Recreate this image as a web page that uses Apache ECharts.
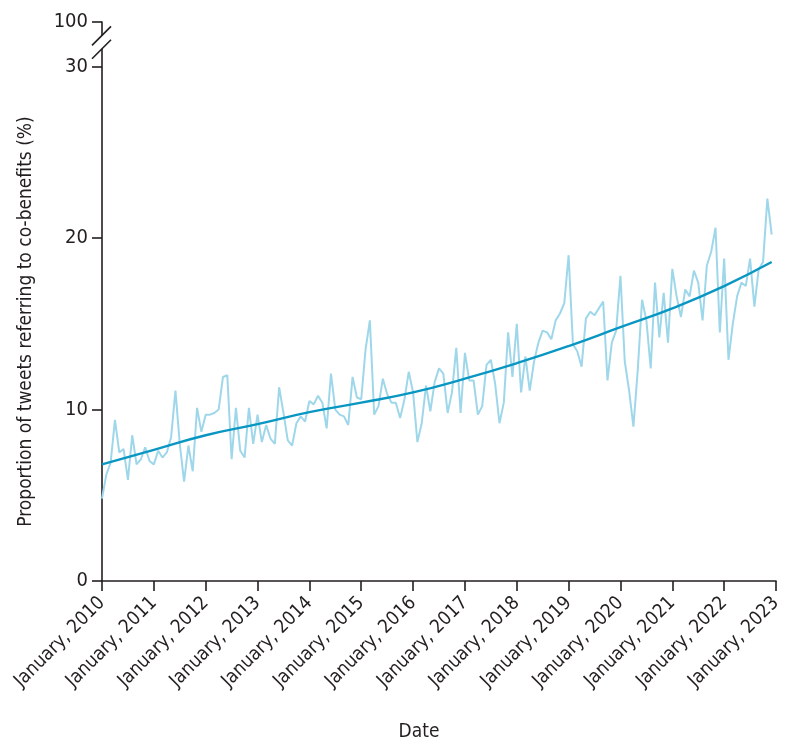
<!DOCTYPE html>
<html>
<head>
<meta charset="utf-8">
<script src="https://cdn.jsdelivr.net/npm/echarts@6.0.0/dist/echarts.min.js"></script>
<style>
  html, body { margin: 0; padding: 0; background: #fff; }
  #chart { width: 800px; height: 753px; }
</style>
</head>
<body>
<div id="chart"></div>
<script>
  // monthly share of tweets mentioning co-benefits, Jan 2010 .. Dec 2022 (one row per year)
  const monthlyShare = [
    4.8, 6.2, 6.9, 9.4, 7.5, 7.7, 5.9, 8.5, 6.8, 7.1, 7.8, 7.0,
    6.8, 7.6, 7.2, 7.5, 8.4, 11.1, 8.0, 5.8, 7.9, 6.4, 10.1, 8.7,
    9.7, 9.7, 9.8, 10.0, 11.9, 12.0, 7.1, 10.1, 7.6, 7.2, 10.1, 8.0,
    9.7, 8.1, 9.1, 8.3, 8.0, 11.3, 9.8, 8.2, 7.9, 9.2, 9.6, 9.3,
    10.5, 10.3, 10.8, 10.4, 8.9, 12.1, 10.0, 9.7, 9.6, 9.1, 11.9, 10.7,
    10.6, 13.5, 15.2, 9.7, 10.2, 11.8, 10.9, 10.4, 10.4, 9.5, 10.6, 12.2,
    11.0, 8.1, 9.2, 11.4, 9.9, 11.6, 12.4, 12.1, 9.8, 11.0, 13.6, 9.8,
    13.3, 11.7, 11.7, 9.7, 10.2, 12.6, 12.9, 11.5, 9.2, 10.4, 14.5, 11.9,
    15.0, 11.0, 13.1, 11.1, 12.8, 13.9, 14.6, 14.5, 14.1, 15.2, 15.6, 16.2,
    19.0, 13.8, 13.4, 12.5, 15.3, 15.7, 15.5, 15.9, 16.3, 11.7, 13.9, 14.6,
    17.8, 12.8, 11.1, 9.0, 12.3, 16.4, 15.2, 12.4, 17.4, 14.2, 16.8, 13.9,
    18.2, 16.6, 15.4, 17.0, 16.6, 18.1, 17.4, 15.2, 18.4, 19.2, 20.6, 14.5,
    18.8, 12.9, 15.0, 16.6, 17.4, 17.2, 18.8, 16.0, 18.2, 18.6, 22.3, 20.2
  ]

  // fitted trend
  const trendMonths = [0, 12, 24, 36, 48, 60, 72, 84, 96, 108, 120, 132, 144, 155]
  const trendValues = [6.8, 7.65, 8.5, 9.15, 9.85, 10.4, 11.0, 11.8, 12.7, 13.7, 14.8, 15.9, 17.2, 18.6]

  const years = [2010, 2011, 2012, 2013, 2014, 2015, 2016, 2017, 2018, 2019, 2020, 2021, 2022, 2023]
  const yTicks = [0, 10, 20, 30]
  const yTopLabel = '100'
  const yTop = 32.6 // where the "100" tick sits after the axis break

  const font = "'DejaVu Sans Condensed', 'Liberation Sans', sans-serif"
  const ink = '#231f20'

  const shareData = monthlyShare.map((v, i) => [i, v])
  const trendData = trendMonths.map((m, i) => [m, trendValues[i]])

  const chart = echarts.init(document.getElementById('chart'), null, { renderer: 'canvas' })

  chart.setOption({
    animation: false,
    grid: {
      left: 102,
      right: 24,
      top: 22,
      bottom: 172,
      containLabel: false,
      outerBoundsMode: 'none',
    },
    xAxis: {
      type: 'value',
      min: 0,
      max: 156,
      interval: 12,
      name: 'Date',
      nameLocation: 'middle',
      nameGap: 142,
      nameTextStyle: { fontFamily: font, fontSize: 19, color: ink, padding: [0, 40, 0, 0] },
      splitLine: { show: false },
      axisLine: { onZero: false, lineStyle: { color: ink, width: 1.6 } },
      axisTick: { length: 10, lineStyle: { color: ink, width: 1.6 } },
      axisLabel: {
        rotate: 45,
        margin: 19,
        fontFamily: font,
        fontSize: 19,
        color: ink,
        showMinLabel: true,
        showMaxLabel: true,
        formatter: (v) => 'January, ' + years[Math.round(v / 12)],
      },
    },
    yAxis: {
      type: 'value',
      min: 0,
      max: yTop,
      name: 'Proportion of tweets referring to co-benefits (%)',
      nameLocation: 'middle',
      nameGap: 66,
      nameTextStyle: { fontFamily: font, fontSize: 19, color: ink, padding: [0, 40, 0, 0] },
      splitLine: { show: false },
      axisLine: { show: true, lineStyle: { color: ink, width: 1.6 } },
      axisTick: {
        show: true,
        length: 10,
        customValues: yTicks.concat([yTop]),
        lineStyle: { color: ink, width: 1.6 },
      },
      axisLabel: {
        margin: 14,
        fontFamily: font,
        fontSize: 20,
        color: ink,
        customValues: yTicks.concat([yTop]),
        formatter: (v) => (v === yTop ? yTopLabel : String(v)),
      },
    },
    series: [
      {
        name: 'Monthly',
        type: 'line',
        data: shareData,
        showSymbol: false,
        lineStyle: { color: '#9fd7ea', width: 2 },
        z: 2,
      },
      {
        name: 'Trend',
        type: 'line',
        data: trendData,
        smooth: true,
        showSymbol: false,
        lineStyle: { color: '#0a96c3', width: 2.4 },
        z: 3,
      },
    ],
  })

  // axis break marks between 30 and 100
  const p30 = chart.convertToPixel({ gridIndex: 0 }, [0, 30])
  const pTop = chart.convertToPixel({ gridIndex: 0 }, [0, yTop])
  const x0 = p30[0]
  const span = p30[1] - pTop[1]
  const s1 = pTop[1] + span * 0.3
  const s2 = pTop[1] + span * 0.6
  chart.setOption({
    graphic: [
      {
        type: 'rect',
        shape: { x: x0 - 4, y: s1, width: 8, height: s2 - s1 },
        style: { fill: '#fff' },
        z: 10,
      },
      {
        type: 'line',
        shape: { x1: x0 - 10, y1: s1 + 10, x2: x0 + 9, y2: s1 - 9 },
        style: { stroke: ink, lineWidth: 1.6 },
        z: 11,
      },
      {
        type: 'line',
        shape: { x1: x0 - 10, y1: s2 + 10, x2: x0 + 9, y2: s2 - 9 },
        style: { stroke: ink, lineWidth: 1.6 },
        z: 11,
      },
    ],
  })

  window.addEventListener('resize', function () {
    chart && chart.resize()
  })
</script>
</body>
</html>
